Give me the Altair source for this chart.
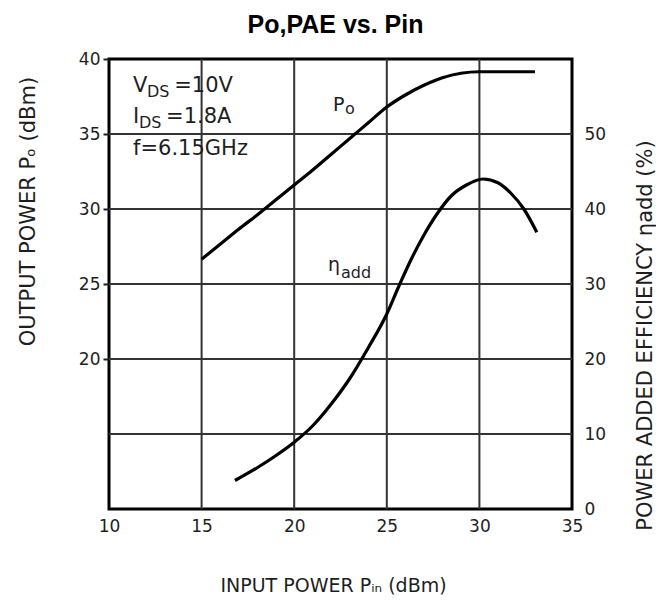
import altair as alt
import pandas as pd

# ---- data ----
pin_po = [15, 16, 17, 18, 19, 20, 21, 22, 23, 24, 25, 26, 27, 28, 29, 30, 31, 32, 33]
po = [26.65, 27.65, 28.65, 29.6, 30.6, 31.6, 32.6, 33.65, 34.7, 35.75, 36.8, 37.6,
      38.25, 38.75, 39.05, 39.15, 39.15, 39.15, 39.15]

pin_pae = [16.8, 18.0, 19.0, 20.0, 21.0, 22.0, 23.0, 24.0, 25.0, 25.65, 26.3, 27.0,
           27.7, 28.5, 29.3, 30.2, 31.0, 31.7, 32.4, 33.1]
pae = [3.8, 5.5, 7.1, 8.9, 11.1, 14.0, 17.4, 21.5, 26.0, 29.7, 33.2, 36.5,
       39.3, 41.8, 43.2, 44.0, 43.5, 42.1, 40.0, 36.9]

x_ticks = [10, 15, 20, 25, 30, 35]
po_ticks = [20, 25, 30, 35, 40]
pae_ticks = [0, 10, 20, 30, 40, 50]
x_grid = [15, 20, 25, 30]
po_grid = [15, 20, 25, 30, 35]

# annotations (in data units of Pin / Po)
big_text = ["V", "=10V", "I", "=1.8A", "f=6.15GHz"]
big_x = [11.30, 13.52, 11.30, 13.08, 11.30]
big_y = [37.80, 37.80, 35.73, 35.73, 33.60]

sub_text = ["DS", "DS", "o", "add"]
sub_x = [12.05, 11.62, 22.74, 22.53]
sub_y = [37.47, 35.40, 36.33, 25.40]

mid_text = ["P", "η"]
mid_x = [22.10, 21.83]
mid_y = [36.53, 25.87]

FONT = "DejaVu Sans"
INK = "#1e1e1e"

xscale = alt.Scale(domain=[10, 35], nice=False, zero=False)
poscale = alt.Scale(domain=[10, 40], nice=False, zero=False)
paescale = alt.Scale(domain=[0, 60], nice=False, zero=False)

x_axis = alt.Axis(
    values=x_ticks, grid=False, ticks=False, domain=False, labelFlush=False,
    labelPadding=9, labelFontSize=17, labelFont=FONT, labelColor=INK,
    title="INPUT POWER Pᵢₙ (dBm)", titleFont=FONT, titleFontSize=19,
    titleFontWeight="normal", titleColor=INK, titleX=224, titleY=82,
    titleAlign="center", titleBaseline="alphabetic",
)

po_axis = alt.Axis(
    values=po_ticks, grid=False, domain=False, labelFlush=False,
    tickSize=6, tickWidth=2, tickColor=INK, labelPadding=3,
    labelFontSize=17, labelFont=FONT, labelColor=INK,
    title="OUTPUT POWER Pₒ (dBm)", titleFont=FONT, titleFontSize=21,
    titleFontWeight="normal", titleColor=INK, titleAngle=270,
    titleX=-81, titleY=152, titleAlign="center", titleBaseline="middle",
)

pae_axis = alt.Axis(
    orient="right", values=pae_ticks, grid=False, domain=False, ticks=False,
    labelFlush=False, labelPadding=12, labelFontSize=17, labelFont=FONT,
    labelColor=INK,
    title="POWER ADDED EFFICIENCY ηadd (%)", titleFont=FONT, titleFontSize=21,
    titleFontWeight="normal", titleColor=INK, titleAngle=270,
    titleX=73, titleY=276, titleAlign="center", titleBaseline="middle",
)

X = lambda: alt.X("pin:Q", scale=xscale, axis=x_axis)
YPO = lambda: alt.Y("po:Q", scale=poscale, axis=po_axis)

df_po = pd.DataFrame({"pin": pin_po, "po": po})
df_pae = pd.DataFrame({"pin": pin_pae, "pae": pae})

vgrid = alt.Chart(pd.DataFrame({"pin": x_grid})).mark_rule(
    color="#333333", strokeWidth=2
).encode(x=X())

hgrid = alt.Chart(pd.DataFrame({"po": po_grid})).mark_rule(
    color="#333333", strokeWidth=2
).encode(y=YPO())

po_line = alt.Chart(df_po).mark_line(
    color="black", strokeWidth=3.2, interpolate="monotone"
).encode(x=X(), y=YPO())

def text_layer(texts, xs, ys, size):
    d = pd.DataFrame({"t": texts, "pin": xs, "po": ys})
    return alt.Chart(d).mark_text(
        align="left", baseline="alphabetic", font=FONT, fontSize=size, color=INK
    ).encode(x=X(), y=YPO(), text="t:N")

big = text_layer(big_text, big_x, big_y, 21)
sub = text_layer(sub_text, sub_x, sub_y, 16)
mid = text_layer(mid_text, mid_x, mid_y, 19)

left = alt.layer(vgrid, hgrid, po_line, big, sub, mid)

pae_line = alt.Chart(df_pae).mark_line(
    color="black", strokeWidth=3.2, interpolate="monotone"
).encode(
    x=X(),
    y=alt.Y("pae:Q", scale=paescale, axis=pae_axis),
)

chart = alt.layer(left, pae_line).resolve_scale(y="independent").properties(
    width=463,
    height=450,
    autosize="none",
    padding={"left": 101, "top": 51, "right": 84, "bottom": 88},
    title=alt.TitleParams(
        "Po,PAE vs. Pin", font="Liberation Sans", fontSize=25,
        fontWeight="bold", color="black", anchor="middle", offset=12, dx=-5,
    ),
).configure_view(stroke="black", strokeWidth=3)

chart.save("out.html", embed_options={"renderer": "svg", "actions": False})
